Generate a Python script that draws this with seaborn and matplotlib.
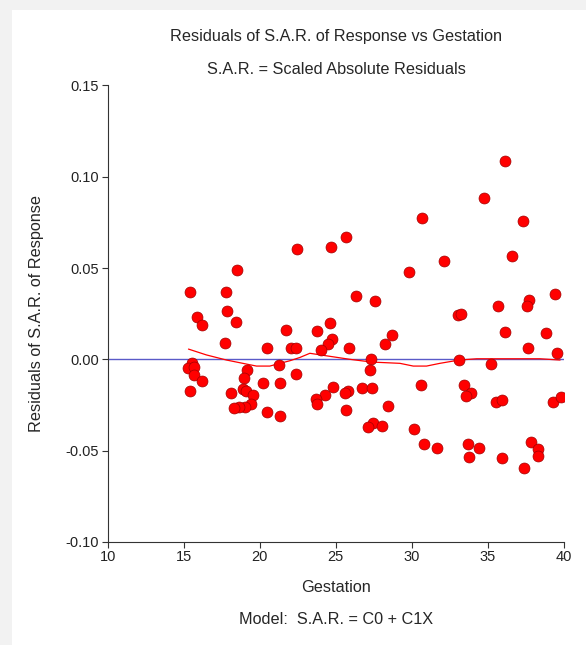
import matplotlib
matplotlib.use("Agg")
import matplotlib.pyplot as plt
import seaborn as sns
import pandas as pd
from matplotlib.patches import Rectangle

# data
gestation = [15.39, 17.78, 18.49, 22.47, 17.83, 15.90, 16.20, 18.42, 17.72, 21.73,
             20.46, 22.06, 22.41, 15.55, 15.31, 15.68, 15.68, 16.20, 15.44, 21.23,
             19.19, 18.95, 20.20, 21.36, 22.35, 18.88, 19.06, 19.52, 18.11, 19.41,
             19.01, 18.64, 18.33, 20.46, 21.36, 24.67, 25.66, 30.66, 29.80, 26.32,
             27.55, 24.59, 23.75, 24.74, 24.47, 23.99, 25.86, 28.68, 28.20, 27.34,
             27.24, 24.80, 25.79, 25.61, 26.71, 27.39, 24.26, 23.70, 23.77, 25.66,
             28.40, 30.61, 27.46, 27.13, 28.03, 30.11, 30.81, 31.68, 36.14, 34.76,
             37.30, 36.56, 32.13, 39.39, 37.70, 35.66, 37.59, 33.00, 33.24, 36.12,
             38.82, 37.65, 39.52, 33.11, 35.20, 33.42, 33.88, 33.53, 35.53, 35.91,
             39.30, 39.80, 33.69, 34.41, 33.72, 35.91, 37.80, 38.32, 38.32, 37.37]
resid = [0.0367, 0.0367, 0.0489, 0.0604, 0.0266, 0.0232, 0.0189, 0.0206, 0.0088, 0.0159,
         0.0062, 0.0062, 0.0062, -0.0019, -0.0049, -0.0044, -0.0084, -0.0120, -0.0174, -0.0030,
         -0.0059, -0.0101, -0.0130, -0.0128, -0.0082, -0.0164, -0.0172, -0.0196, -0.0185, -0.0245,
         -0.0260, -0.0261, -0.0268, -0.0289, -0.0309, 0.0615, 0.0668, 0.0772, 0.0476, 0.0348,
         0.0321, 0.0200, 0.0157, 0.0110, 0.0082, 0.0053, 0.0062, 0.0135, 0.0085, 0.0002,
         -0.0060, -0.0153, -0.0172, -0.0183, -0.0156, -0.0156, -0.0197, -0.0217, -0.0246, -0.0279,
         -0.0256, -0.0142, -0.0350, -0.0372, -0.0364, -0.0380, -0.0466, -0.0487, 0.1084, 0.0882,
         0.0756, 0.0564, 0.0537, 0.0355, 0.0325, 0.0290, 0.0294, 0.0243, 0.0248, 0.0148,
         0.0142, 0.0064, 0.0036, -0.0005, -0.0026, -0.0139, -0.0186, -0.0199, -0.0232, -0.0223,
         -0.0232, -0.0205, -0.0464, -0.0487, -0.0533, -0.0539, -0.0453, -0.0490, -0.0531, -0.0594]

loess_x = [15.31, 16.49, 17.81, 19.78, 20.66, 21.32, 21.97, 22.63, 23.29, 24.16,
           25.92, 27.35, 29.21, 30.09, 30.96, 31.84, 33.11, 34.26, 38.42, 39.74]
loess_y = [0.0056, 0.0024, -0.0004, -0.0037, -0.0037, -0.0022, -0.0008, 0.0010, 0.0033, 0.0022,
           0.0000, -0.0015, -0.0022, -0.0037, -0.0037, -0.0022, -0.0004, 0.0003, 0.0003, -0.0004]

x_ticks = [10, 15, 20, 25, 30, 35, 40]
y_ticks = [-0.10, -0.05, 0.00, 0.05, 0.10, 0.15]

sns.set_style("ticks")
plt.rcParams['font.family'] = ['Liberation Sans', 'DejaVu Sans']

df = pd.DataFrame({'Gestation': gestation, 'Resid': resid})
smooth = pd.DataFrame({'x': loess_x, 'y': loess_y})

fig = plt.figure(figsize=(5.86, 6.45), dpi=100)
fig.patch.set_facecolor('#f2f2f2')
fig.patches.append(Rectangle((12/586, 0), 1, 1 - 10/645, transform=fig.transFigure,
                             facecolor='white', edgecolor='none', zorder=-5))

ax = fig.add_axes([0.1838, 0.1598, 0.7787, 0.7078])
ax.set_zorder(2)
ax.set_facecolor('none')

ax.axhline(0, color='#5a5ac8', lw=1.0, zorder=1)
sns.lineplot(data=smooth, x='x', y='y', sort=False, estimator=None,
             color='red', lw=0.9, ax=ax, zorder=2)
sns.scatterplot(data=df, x='Gestation', y='Resid', s=62, color='red',
                edgecolor='#a00000', linewidth=0.5, ax=ax, zorder=3)

ax.set_xlim(10, 40)
ax.set_ylim(-0.10, 0.15)
ax.set_xticks(x_ticks)
ax.set_xticklabels([str(t) for t in x_ticks])
ax.set_yticks(y_ticks)
ax.set_yticklabels([f"{t:.2f}" for t in y_ticks])
ax.tick_params(labelsize=10.5, length=4, width=0.8, color='#333333', labelcolor='#222222', pad=2)
for s in ['top', 'right']:
    ax.spines[s].set_visible(False)
for s in ['left', 'bottom']:
    ax.spines[s].set_color('#333333')
    ax.spines[s].set_linewidth(0.8)
ax.set_xlabel('')
ax.set_ylabel('')

fs = 11.7
fig.text(336/586, 1 - 36/645, 'Residuals of S.A.R. of Response vs Gestation',
         ha='center', va='center', fontsize=fs)
fig.text(336/586, 1 - 69/645, 'S.A.R. = Scaled Absolute Residuals',
         ha='center', va='center', fontsize=fs)
fig.text(336/586, 1 - 587/645, 'Gestation', ha='center', va='center', fontsize=fs)
fig.text(336/586, 1 - 620/645, 'Model:  S.A.R. = C0 + C1X', ha='center', va='center', fontsize=fs)
fig.text(37/586, 1 - 313/645, 'Residuals of S.A.R. of Response', ha='center', va='center',
         rotation=90, fontsize=fs)

fig.savefig('out.png', dpi=100, facecolor=fig.get_facecolor())
